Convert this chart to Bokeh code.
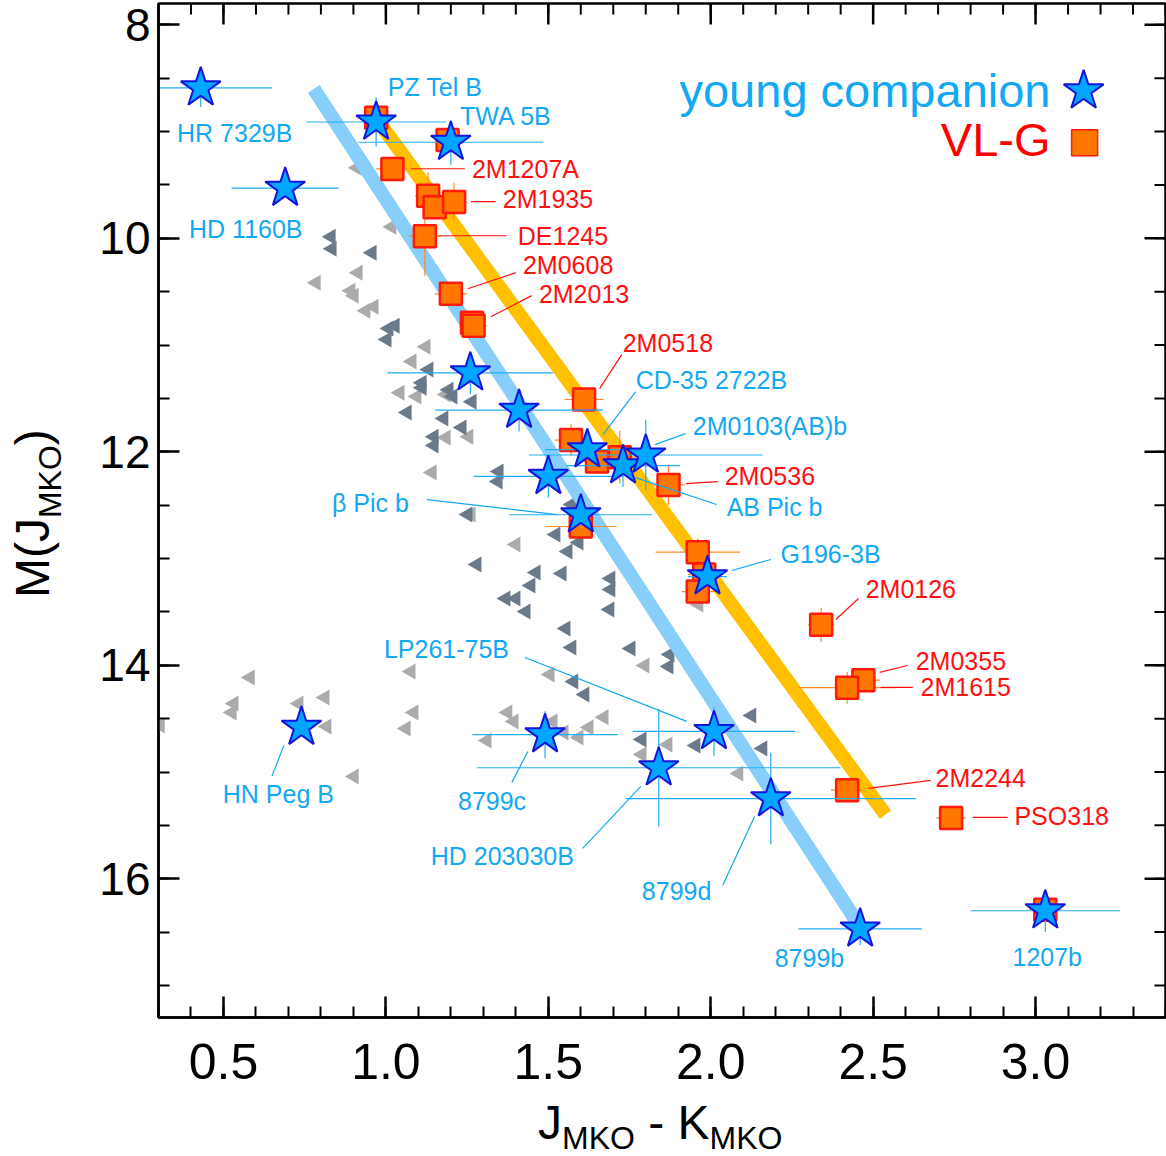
import math
import numpy as np
from bokeh.plotting import figure
from bokeh.layouts import row, column
from bokeh.models import (Range1d, LinearAxis, SingleIntervalTicker, PrintfTickFormatter, Div)
from bokeh.core.properties import value
from bokeh.embed import file_html
from bokeh.resources import INLINE

FONT = "Liberation Sans"

# ---- young companions (J-K, M_J, errors) ----
yc_name = ["HR 7329B", "PZ Tel B", "TWA 5B", "HD 1160B", "", "", "CD-35 2722B", "",
           "AB Pic b", "2M0103(AB)b", "β Pic b", "G196-3B", "HN Peg B", "8799c",
           "LP261-75B", "HD 203030B", "8799d", "8799b", "1207b"]
yc_jk = [0.43, 0.97, 1.20, 0.69, 1.26, 1.41, 1.62, 1.50, 1.73, 1.80, 1.60, 1.99, 0.74,
         1.49, 2.01, 1.84, 2.185, 2.46, 3.03]
yc_mj = [8.59, 8.91, 9.10, 9.53, 11.26, 11.61, 11.98, 12.23, 12.13, 12.03, 12.59, 13.17,
         14.58, 14.65, 14.62, 14.96, 15.25, 16.47, 16.30]
yc_ejk = [0.22, 0.215, 0.285, 0.165, 0.255, 0.258, 0.13, 0.23, 0.175, 0.36, 0.22, 0.06,
          0.03, 0.224, 0.25, 0.56, 0.446, 0.19, 0.23]
yc_emj = [0.18, 0.23, 0.21, 0.05, 0.20, 0.20, 0.10, 0.20, 0.20, 0.33, 0.10, 0.05, 0.03,
          0.22, 0.23, 0.55, 0.43, 0.15, 0.20]

# ---- VL-G field objects ----
vl_jk = [0.97, 1.19, 1.02, 1.13, 1.15, 1.21, 1.12, 1.20, 1.265, 1.27, 1.61, 1.57, 1.65,
         1.72, 1.87, 1.60, 1.96, 1.98, 1.96, 2.34, 2.47, 2.42, 2.42, 2.74, 3.03]
vl_mj = [8.87, 9.08, 9.35, 9.60, 9.71, 9.66, 9.98, 10.52, 10.79, 10.82, 11.51, 11.89,
         12.09, 12.05, 12.31, 12.70, 12.94, 13.15, 13.31, 13.62, 14.14, 14.21, 15.17,
         15.43, 16.29]
vl_ejk = [0.03, 0.03, 0.05, 0.04, 0.04, 0.04, 0.05, 0.05, 0.04, 0.04, 0.06, 0.05, 0.05,
          0.05, 0.05, 0.11, 0.13, 0.05, 0.05, 0.04, 0.05, 0.15, 0.05, 0.045, 0.05]
vl_emj = [0.15, 0.10, 0.05, 0.22, 0.10, 0.18, 0.37, 0.08, 0.08, 0.08, 0.10, 0.15, 0.10,
          0.25, 0.19, 0.10, 0.13, 0.05, 0.08, 0.16, 0.10, 0.15, 0.05, 0.05, 0.05]

# ---- field dwarfs (two groups of triangles) ----
fd_dark_jk = [0.831, 0.834, 0.957, 1.028, 1.009, 1.003, 1.132, 1.111, 1.111, 1.194, 1.206,
              1.265, 1.065, 1.178, 1.234, 1.148, 1.148, 1.348, 1.345, 1.252, 1.572, 1.523,
              1.594, 1.560, 1.280, 1.462, 1.542, 1.692, 1.446, 1.692, 1.369, 1.400, 1.431,
              1.689, 1.554, 1.572, 1.754, 1.874, 1.871, 1.578, 1.612, 1.788, 1.954, 2.126,
              2.160]
fd_dark_mj = [9.985, 10.097, 10.135, 10.818, 10.846, 10.949, 11.230, 11.352, 11.399, 11.418,
              11.483, 11.530, 11.633, 11.689, 11.773, 11.858, 11.942, 12.185, 12.279, 12.588,
              12.494, 12.775, 12.850, 12.934, 13.056, 13.131, 13.140, 13.187, 13.253, 13.290,
              13.375, 13.375, 13.496, 13.478, 13.655, 13.833, 13.843, 13.899, 14.011, 14.152,
              14.273, 14.695, 14.751, 14.470, 14.779]
fd_light_jk = [0.911, 1.018, 0.914, 0.785, 0.892, 0.902, 0.938, 0.963, 1.123, 1.080, 1.043,
               1.095, 1.185, 1.185, 1.255, 1.142, 1.262, 1.400, 1.963, 1.797, 1.505, 1.375,
               1.394, 1.514, 1.548, 1.594, 1.625, 1.671, 1.311, 1.868, 1.788, 2.086, 0.582,
               0.532, 0.526, 0.732, 0.812, 0.818, 0.902, 1.077, 1.086, 1.062, 0.305]
fd_light_mj = [9.339, 9.891, 10.322, 10.416, 10.491, 10.537, 10.678, 10.640, 11.015, 11.155,
               11.446, 11.483, 11.464, 11.867, 11.858, 12.195, 12.588, 12.869, 13.431, 14.002,
               14.086, 14.442, 14.526, 14.526, 14.629, 14.676, 14.582, 14.488, 14.704, 14.742,
               14.835, 15.013, 14.114, 14.358, 14.442, 14.358, 14.301, 14.573, 15.041, 14.058,
               14.442, 14.592, 14.564]

# ---- linear sequences (J-K endpoints, M_J endpoints) ----
seq_young_jk = [0.778, 2.449]
seq_young_mj = [8.60, 16.40]
seq_vlg_jk = [0.978, 2.538]
seq_vlg_mj = [8.91, 15.40]

# ---- annotations: (text, label x, label y, leader x0, y0, x1, y1) ----
blue_notes = [
    ("PZ Tel B", 1.006, 8.581, None),
    ("TWA 5B", 1.228, 8.852, None),
    ("HR 7329B", 0.357, 9.011, None),
    ("HD 1160B", 0.394, 9.910, None),
    ("CD-35 2722B", 1.769, 11.324, (1.769, 11.436, 1.668, 11.839)),
    ("2M0103(AB)b", 1.945, 11.755, (1.923, 11.830, 1.828, 11.933)),
    ("AB Pic b", 2.049, 12.513, (1.769, 12.242, 2.018, 12.494)),
    ("β Pic b", 0.834, 12.476, (1.126, 12.448, 1.526, 12.588)),
    ("G196-3B", 2.215, 12.953, (2.065, 13.112, 2.185, 13.009)),
    ("LP261-75B", 0.994, 13.843, (1.428, 13.927, 1.926, 14.526)),
    ("HN Peg B", 0.498, 15.210, (0.686, 14.751, 0.649, 15.041)),
    ("8799c", 1.222, 15.275, (1.437, 14.807, 1.388, 15.097)),
    ("HD 203030B", 1.138, 15.790, (1.785, 15.135, 1.606, 15.715)),
    ("8799d", 1.788, 16.118, (2.135, 15.416, 2.037, 16.062)),
    ("8799b", 2.197, 16.745, None),
    ("1207b", 2.929, 16.736, None),
]
red_notes = [
    ("2M1207A", 1.265, 9.348, (1.077, 9.348, 1.243, 9.348)),
    ("2M1935", 1.360, 9.629, (1.262, 9.657, 1.338, 9.657)),
    ("DE1245", 1.406, 9.976, (1.163, 9.976, 1.372, 9.976)),
    ("2M0608", 1.422, 10.247, (1.252, 10.472, 1.400, 10.322)),
    ("2M2013", 1.471, 10.519, (1.323, 10.734, 1.449, 10.537)),
    ("2M0518", 1.729, 10.978, (1.658, 11.408, 1.726, 11.090)),
    ("2M0536", 2.043, 12.223, (1.923, 12.298, 2.022, 12.279)),
    ("2M0126", 2.477, 13.290, (2.385, 13.571, 2.455, 13.375)),
    ("2M0355", 2.631, 13.964, (2.520, 14.067, 2.606, 14.002)),
    ("2M1615", 2.646, 14.199, (2.523, 14.208, 2.622, 14.208)),
    ("2M2244", 2.692, 15.060, (2.486, 15.154, 2.677, 15.079)),
    ("PSO318", 2.935, 15.416, (2.806, 15.425, 2.914, 15.425)),
]

STAR_FILL = "#00A6FF"
STAR_EDGE = "#1414DC"
STAR_ERR = "#22AEF2"
BLUE_TXT = "#12A8F2"
SQ_FILL = "#FF7700"
SQ_EDGE = "#FF1A0A"
SQ_ERR = "#FF8A20"
RED_TXT = "#FF1010"

X0, X1 = 0.3, 3.4
Y0, Y1 = 17.3, 7.8

TITLE_W = 70          # strip on the left holding the vertical axis title
FIG_W, FIG_H = 1166 - TITLE_W, 1103

p = figure(width=FIG_W, height=FIG_H, output_backend="svg", toolbar_location=None,
           x_range=Range1d(X0, X1), y_range=Range1d(Y0, Y1),
           min_border_left=158 - TITLE_W, min_border_right=1, min_border_top=3,
           min_border_bottom=FIG_H - 1017, x_axis_type=None, y_axis_type=None)
p.grid.visible = False
p.outline_line_color = "black"
p.outline_line_width = 2.5
p.background_fill_color = "white"
p.border_fill_color = "white"

xt = SingleIntervalTicker(interval=0.5, num_minor_ticks=5)
yt = SingleIntervalTicker(interval=2, num_minor_ticks=4)


def style_axis(ax, size):
    ax.axis_line_width = 2.5
    ax.axis_line_color = "black"
    ax.major_tick_in = 21
    ax.major_tick_out = 0
    ax.minor_tick_in = 11
    ax.minor_tick_out = 0
    ax.major_tick_line_width = 2.5
    ax.minor_tick_line_width = 2
    ax.major_tick_line_color = "black"
    ax.minor_tick_line_color = "black"
    ax.major_label_text_font = FONT
    ax.major_label_text_font_size = size
    ax.major_label_text_color = "black"


bx = LinearAxis(ticker=xt, formatter=PrintfTickFormatter(format="%.1f"))
style_axis(bx, "50px")
bx.major_label_standoff = 26
p.add_layout(bx, "below")
ly = LinearAxis(ticker=yt)
style_axis(ly, "46px")
ly.major_label_standoff = 8
p.add_layout(ly, "left")

# mirrored ticks on the top and right edges of the frame
xmaj = np.arange(0.5, 3.01, 0.5)
xmin = np.round(np.arange(0.3, 3.41, 0.1), 3)
ymaj = np.arange(8.0, 17.01, 2.0)
ymin = np.arange(8.0, 17.21, 0.5)
dy_maj, dy_min = 21 / 106.8, 11 / 106.8
dx_maj, dx_min = 21 / 325.0, 11 / 325.0
p.segment(xmin, Y1, xmin, Y1 + dy_min, line_color="black", line_width=2)
p.segment(xmaj, Y1, xmaj, Y1 + dy_maj, line_color="black", line_width=2.5)
p.segment(X1, ymin, X1 - dx_min, ymin, line_color="black", line_width=2)
p.segment(X1, ymaj, X1 - dx_maj, ymaj, line_color="black", line_width=2.5)

# field dwarfs
p.scatter(fd_light_jk, fd_light_mj, marker="triangle", size=16, angle=math.pi / 2,
          fill_color="#ABABAB", line_color=None)
p.scatter(fd_dark_jk, fd_dark_mj, marker="triangle", size=16, angle=math.pi / 2,
          fill_color="#6B7A8A", line_color=None)

# sequences
p.line(seq_young_jk, seq_young_mj, line_color="#87CEFA", line_width=14)
p.line(seq_vlg_jk, seq_vlg_mj, line_color="#FFC000", line_width=14)

# VL-G points with error bars
vx0 = [a - b for a, b in zip(vl_jk, vl_ejk)]
vx1 = [a + b for a, b in zip(vl_jk, vl_ejk)]
vy0 = [a - b for a, b in zip(vl_mj, vl_emj)]
vy1 = [a + b for a, b in zip(vl_mj, vl_emj)]
p.segment(vx0, vl_mj, vx1, vl_mj, line_color=SQ_ERR, line_width=1.2)
p.segment(vl_jk, vy0, vl_jk, vy1, line_color=SQ_ERR, line_width=1.2)
p.scatter(vl_jk, vl_mj, marker="square", size=22, fill_color=SQ_FILL,
          line_color=SQ_EDGE, line_width=2.5)

# young companions with error bars
yx0 = [a - b for a, b in zip(yc_jk, yc_ejk)]
yx1 = [a + b for a, b in zip(yc_jk, yc_ejk)]
yy0 = [a - b for a, b in zip(yc_mj, yc_emj)]
yy1 = [a + b for a, b in zip(yc_mj, yc_emj)]
p.segment(yx0, yc_mj, yx1, yc_mj, line_color=STAR_ERR, line_width=1.2)
p.segment(yc_jk, yy0, yc_jk, yy1, line_color=STAR_ERR, line_width=1.2)
p.scatter(yc_jk, yc_mj, marker="star", size=42, fill_color=STAR_FILL,
          line_color=STAR_EDGE, line_width=2)

# labels and leader lines
for notes, col in ((blue_notes, BLUE_TXT), (red_notes, RED_TXT)):
    for txt, lx, ly_, lead in notes:
        if lead is not None:
            p.segment([lead[0]], [lead[1]], [lead[2]], [lead[3]], line_color=col, line_width=1.2)
        p.text([lx], [ly_], text=[txt], text_font=value(FONT), text_font_size="25px",
               text_color=col, text_align="left", text_baseline="middle")

# key in the upper right
p.text([3.046], [8.615], text=["young companion"], text_font=value(FONT),
       text_font_size="47px", text_color=BLUE_TXT, text_align="right",
       text_baseline="middle")
p.text([3.046], [9.073], text=["VL-G"], text_font=value(FONT), text_font_size="47px",
       text_color="#FF0000", text_align="right", text_baseline="middle")
p.scatter([3.148], [8.618], marker="star", size=42, fill_color=STAR_FILL,
          line_color=STAR_EDGE, line_width=2)
p.scatter([3.151], [9.105], marker="square", size=26, fill_color=SQ_FILL,
          line_color=SQ_EDGE, line_width=1.5)

# axis titles with lowered subscripts, as HTML beside the figure
TXT = ("white-space:nowrap;font-family:'Liberation Sans',Arial,sans-serif;"
       "font-size:48px;line-height:48px;color:black;")
SUB = '<span style="font-size:32px;position:relative;top:{}px;">MKO</span>'

ytitle = Div(
    text=('<div style="position:relative;width:%dpx;height:1156px;">'
          '<div style="position:absolute;left:0;top:0;transform-origin:0 0;'
          'transform:translate(9px,598px) rotate(-90deg);%s">M(J%s)</div></div>'
          % (TITLE_W, TXT, SUB.format(12))),
    width=TITLE_W, height=1156, margin=0, styles={"overflow": "visible"})

xtitle = Div(
    text=('<div style="position:relative;width:%dpx;height:%dpx;">'
          '<div style="position:absolute;left:%dpx;top:-4px;%s">J%s - K%s</div></div>'
          % (FIG_W, 1156 - FIG_H, 538 - TITLE_W, TXT, SUB.format(10), SUB.format(10))),
    width=FIG_W, height=1156 - FIG_H, margin=0, styles={"overflow": "visible"})

page = row(ytitle, column(p, xtitle, spacing=0), spacing=0)

open("out.html", "w").write(file_html(page, INLINE))
